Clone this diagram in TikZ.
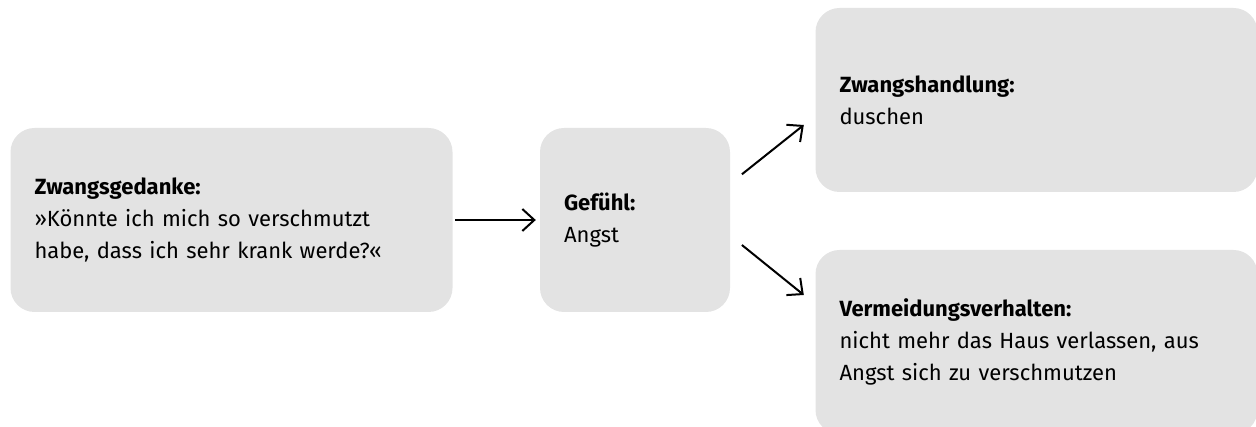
\documentclass[tikz,border=0pt]{standalone}
\usepackage{fontspec}
\setmainfont{Fira Sans}
\usepackage{xcolor}
\usepackage{tikz}
\usetikzlibrary{arrows.meta}
\definecolor{kastengrau}{HTML}{E3E3E3}

\begin{document}
\begin{tikzpicture}[x=1pt,y=1pt,>={Straight Barb[length=12pt,width=22pt]},
    kasten/.style={rectangle,rounded corners=24pt,fill=kastengrau,minimum height=184pt,
        inner xsep=24pt,inner ysep=0pt,align=left,font=\fontsize{22}{32}\selectfont},
    pfeil/.style={->,line width=2pt}] % Zwang: Gedanke -> Gefuehl -> Handlung
    \useasboundingbox (0,0) rectangle (1256,427);

    \node[kasten,text width=394pt] (gedanke) at (231.5,207)
        {\textbf{Zwangsgedanke:}\\»Könnte ich mich so verschmutzt\\habe, dass ich sehr krank werde?«};
    \node[kasten,text width=142pt] (gefuehl) at (635,207)
        {\textbf{Gefühl:}\\Angst};
    \node[kasten,text width=394pt] (handlung) at (1036.5,327)
        {\textbf{Zwangshandlung:}\\duschen};
    \node[kasten,text width=394pt] (vermeidung) at (1036.5,85)
        {\textbf{Vermeidungsverhalten:}\\nicht mehr das Haus verlassen, aus\\Angst sich zu verschmutzen};

    \draw[pfeil,shorten <=2.5pt,shorten >=4pt] (gedanke) -- (gefuehl);
    \draw[pfeil] ([shift={(11.7,45.7)}] gefuehl.east) -- ([shift={(-11.5,-25)}] handlung.west);
    \draw[pfeil] ([shift={(11.7,-25)}] gefuehl.east) -- ([shift={(-11.5,47)}] vermeidung.west);
\end{tikzpicture}
\end{document}
